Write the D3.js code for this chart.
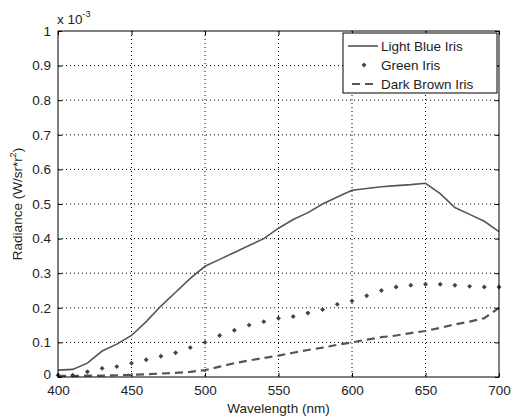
<!DOCTYPE html>
<html>
<head>
<meta charset="utf-8">
<script src="https://cdn.jsdelivr.net/npm/d3@7"></script>
<style>
  body { margin: 0; background: #fff; }
  text { font-family: "Liberation Sans", Arial, sans-serif; }
</style>
</head>
<body>
<svg width="512" height="418"></svg>
<script>
// wavelengths (nm), values in units of 1e-3 W/sr*r^2
let wavelengths = d3.range(400, 701, 10);
let lightBlue = [0.020, 0.022, 0.040, 0.075, 0.095, 0.120, 0.160, 0.205, 0.245, 0.285, 0.320,
  0.340, 0.360, 0.380, 0.400, 0.430, 0.455, 0.475, 0.500, 0.520, 0.540,
  0.545, 0.550, 0.553, 0.556, 0.560, 0.530, 0.490, 0.470, 0.450, 0.420];
let green = [0.005, 0.005, 0.015, 0.025, 0.030, 0.040, 0.050, 0.060, 0.070, 0.085, 0.100,
  0.120, 0.135, 0.150, 0.160, 0.170, 0.175, 0.185, 0.195, 0.210, 0.220,
  0.235, 0.250, 0.260, 0.265, 0.268, 0.268, 0.265, 0.262, 0.260, 0.260];
let darkBrown = [0.003, 0.003, 0.004, 0.004, 0.005, 0.006, 0.008, 0.010, 0.012, 0.015, 0.020,
  0.030, 0.040, 0.048, 0.055, 0.062, 0.070, 0.078, 0.085, 0.093, 0.100,
  0.108, 0.115, 0.120, 0.127, 0.133, 0.142, 0.152, 0.160, 0.170, 0.200];
let xTicks = [400, 450, 500, 550, 600, 650, 700];
let yTicks = [0, 0.1, 0.2, 0.3, 0.4, 0.5, 0.6, 0.7, 0.8, 0.9, 1];
let seriesNames = ["Light Blue Iris", "Green Iris", "Dark Brown Iris"];

let svg = d3.select("svg"),
  pLeft = 58, pRight = 499, pTop = 31, pBottom = 377;

let x = d3.scaleLinear().domain([400, 700]).range([pLeft, pRight]);
let y = d3.scaleLinear().domain([0, 1]).range([pBottom, pTop]);

let g = svg.append("g");

// grid
g.selectAll(".vgrid").data(xTicks.slice(1, -1)).enter().append("line")
  .attr("x1", d => x(d)).attr("x2", d => x(d))
  .attr("y1", pTop).attr("y2", pBottom)
  .attr("stroke", "#000").attr("stroke-width", 1).attr("stroke-dasharray", "1,3");
g.selectAll(".hgrid").data(yTicks.slice(1, -1)).enter().append("line")
  .attr("x1", pLeft).attr("x2", pRight)
  .attr("y1", d => y(d)).attr("y2", d => y(d))
  .attr("stroke", "#000").attr("stroke-width", 1).attr("stroke-dasharray", "1,3");

let line = d3.line().x((d, i) => x(wavelengths[i])).y(d => y(d));

g.append("path").datum(lightBlue)
  .attr("d", line).attr("fill", "none")
  .attr("stroke", "#555").attr("stroke-width", 1.6);

g.append("path").datum(darkBrown)
  .attr("d", line).attr("fill", "none")
  .attr("stroke", "#555").attr("stroke-width", 2.2).attr("stroke-dasharray", "8,5");

// small rotated squares for the dotted series
let marker = d3.symbol().type(d3.symbolSquare).size(12);
g.selectAll(".gdot").data(green).enter().append("path")
  .attr("d", marker)
  .attr("transform", (d, i) => "translate(" + x(wavelengths[i]) + "," + y(d) + ") rotate(45)")
  .attr("fill", "#444");

// axes box
svg.append("rect")
  .attr("x", pLeft).attr("y", pTop)
  .attr("width", pRight - pLeft).attr("height", pBottom - pTop)
  .attr("fill", "none").attr("stroke", "#000").attr("stroke-width", 1);

let xAxis = svg.append("g").attr("transform", "translate(0," + pBottom + ")")
  .call(d3.axisBottom(x).tickValues(xTicks).tickSize(-4).tickPadding(8).tickFormat(d3.format("d")));
let xTop = svg.append("g").attr("transform", "translate(0," + pTop + ")")
  .call(d3.axisTop(x).tickValues(xTicks).tickSize(-4).tickFormat(""));
let yAxis = svg.append("g").attr("transform", "translate(" + pLeft + ",0)")
  .call(d3.axisLeft(y).tickValues(yTicks).tickSize(-4).tickPadding(7).tickFormat(d => d === 0 || d === 1 ? d : d3.format(".1f")(d)));
let yRight = svg.append("g").attr("transform", "translate(" + pRight + ",0)")
  .call(d3.axisRight(y).tickValues(yTicks).tickSize(-4).tickFormat(""));

[xAxis, xTop, yAxis, yRight].forEach(a => {
  a.select(".domain").remove();
  a.selectAll("line").attr("stroke", "#000");
  a.selectAll("text").attr("font-size", 13.5).attr("fill", "#222")
    .attr("font-family", "'Liberation Sans', Arial, sans-serif");
});
// the "0" label sits a little higher, as in the original
yAxis.selectAll(".tick text").filter(d => d === 0).attr("dy", "0.1em");

// exponent label
let ex = svg.append("text").attr("x", 57).attr("y", 24).attr("font-size", 13.5).attr("fill", "#222");
ex.append("tspan").text("x 10");
ex.append("tspan").attr("dy", -7).attr("font-size", 9).text("-3");

svg.append("text")
  .attr("x", (pLeft + pRight) / 2).attr("y", 413)
  .attr("text-anchor", "middle").attr("font-size", 13.5).attr("fill", "#222")
  .text("Wavelength (nm)");

let yl = svg.append("text")
  .attr("transform", "translate(22," + ((pTop + pBottom) / 2) + ") rotate(-90)")
  .attr("text-anchor", "middle").attr("font-size", 13.5).attr("fill", "#222");
yl.append("tspan").text("Radiance (W/sr*r");
yl.append("tspan").attr("dy", -6).attr("font-size", 9).text("2");
yl.append("tspan").attr("dy", 6).text(")");

// legend
let lg = svg.append("g").attr("transform", "translate(343,33)");
lg.append("rect").attr("width", 154).attr("height", 60)
  .attr("fill", "#fff").attr("stroke", "#000").attr("stroke-width", 1);
seriesNames.forEach((name, i) => {
  let yy = 13 + i * 19;
  if (i === 0) {
    lg.append("line").attr("x1", 5).attr("x2", 35).attr("y1", yy).attr("y2", yy)
      .attr("stroke", "#555").attr("stroke-width", 1.6);
  } else if (i === 1) {
    lg.append("path").attr("d", marker).attr("transform", "translate(21," + yy + ") rotate(45)").attr("fill", "#444");
  } else {
    lg.append("line").attr("x1", 9).attr("x2", 35).attr("y1", yy).attr("y2", yy)
      .attr("stroke", "#555").attr("stroke-width", 2.2).attr("stroke-dasharray", "8,5");
  }
  lg.append("text").attr("x", 38).attr("y", yy + 5).attr("font-size", 13.5).attr("fill", "#222").text(name);
});
</script>
</body>
</html>
